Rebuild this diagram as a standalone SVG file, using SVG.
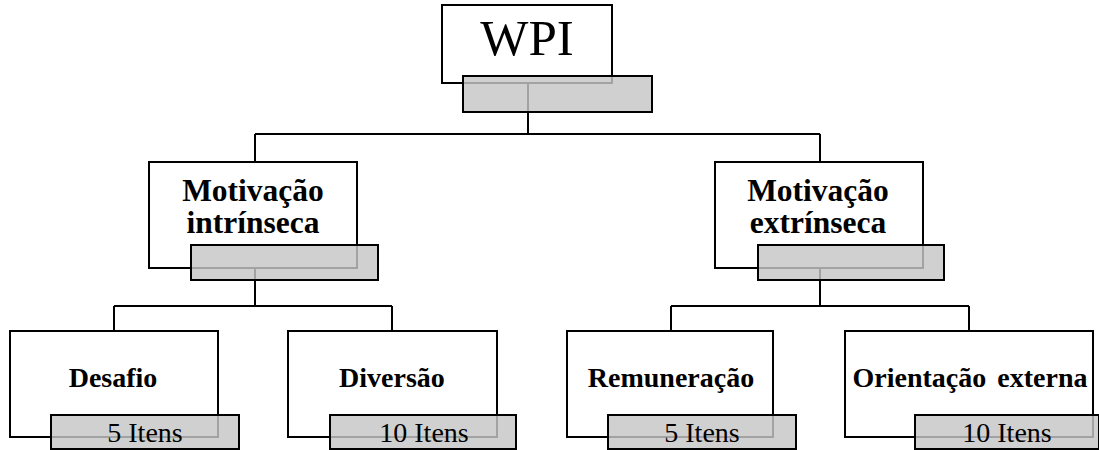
<svg xmlns="http://www.w3.org/2000/svg" width="1099" height="450" viewBox="0 0 1099 450">
<style>
.box{fill:#fff;stroke:#000;stroke-width:2}
.tag{fill:#c6c6c6;fill-opacity:0.82;stroke:#000;stroke-width:2}
.conn{fill:none;stroke:#000;stroke-width:2}
text{font-family:'Liberation Serif','Times New Roman',Times,serif;fill:#000;text-anchor:middle}
.b{font-weight:bold}
</style>
<rect width="1099" height="450" fill="#fff"/>
<g id="n-wpi"><rect class="box" x="442" y="5" width="170" height="78"/></g>
<g id="n-mi"><rect class="box" x="149" y="162" width="208" height="106"/></g>
<g id="n-me"><rect class="box" x="715" y="162" width="208" height="106"/></g>
<g id="n-des"><rect class="box" x="10" y="331" width="208" height="106"/></g>
<g id="n-div"><rect class="box" x="288" y="331" width="209" height="106"/></g>
<g id="n-rem"><rect class="box" x="567" y="331" width="206" height="106"/></g>
<g id="n-ori"><rect class="box" x="845" y="331" width="248" height="106"/></g>
<g id="connectors">
<path class="conn" d="M528 83V134M255 134H820M255 134V162M820 134V162"/>
<path class="conn" d="M255 268V306M114 306H392M114 306V331M392 306V331"/>
<path class="conn" d="M820 268V306M671 306H969M671 306V331M969 306V331"/>
</g>
<g id="wpi">
<rect class="tag" x="463" y="76" width="189" height="36"/>
<text x="527" y="55" font-size="51">WPI</text>
</g>
<g id="motivacao-intrinseca">
<rect class="tag" x="191" y="245" width="187" height="35"/>
<text class="b" x="253" y="201" font-size="31.5">Motivação</text>
<text class="b" x="253" y="233" font-size="31.5">intrínseca</text>
</g>
<g id="motivacao-extrinseca">
<rect class="tag" x="758" y="245" width="186" height="35"/>
<text class="b" x="818" y="201" font-size="31.5">Motivação</text>
<text class="b" x="818" y="233" font-size="31.5">extrínseca</text>
</g>
<g id="desafio">
<rect class="tag" x="51" y="415" width="188" height="34"/>
<text class="b" x="113" y="387" font-size="28">Desafio</text>
<text x="145" y="442" font-size="28">5 Itens</text>
</g>
<g id="diversao">
<rect class="tag" x="330" y="415" width="186" height="34"/>
<text class="b" x="392" y="387" font-size="28">Diversão</text>
<text x="424" y="442" font-size="28">10 Itens</text>
</g>
<g id="remuneracao">
<rect class="tag" x="608" y="415" width="188" height="34"/>
<text class="b" x="671" y="387" font-size="28">Remuneração</text>
<text x="702" y="442" font-size="28">5 Itens</text>
</g>
<g id="orientacao-externa">
<rect class="tag" x="915" y="415" width="184" height="34"/>
<text class="b" x="970" y="387" font-size="28" word-spacing="4">Orientação externa</text>
<text x="1007" y="442" font-size="28">10 Itens</text>
</g>
</svg>
